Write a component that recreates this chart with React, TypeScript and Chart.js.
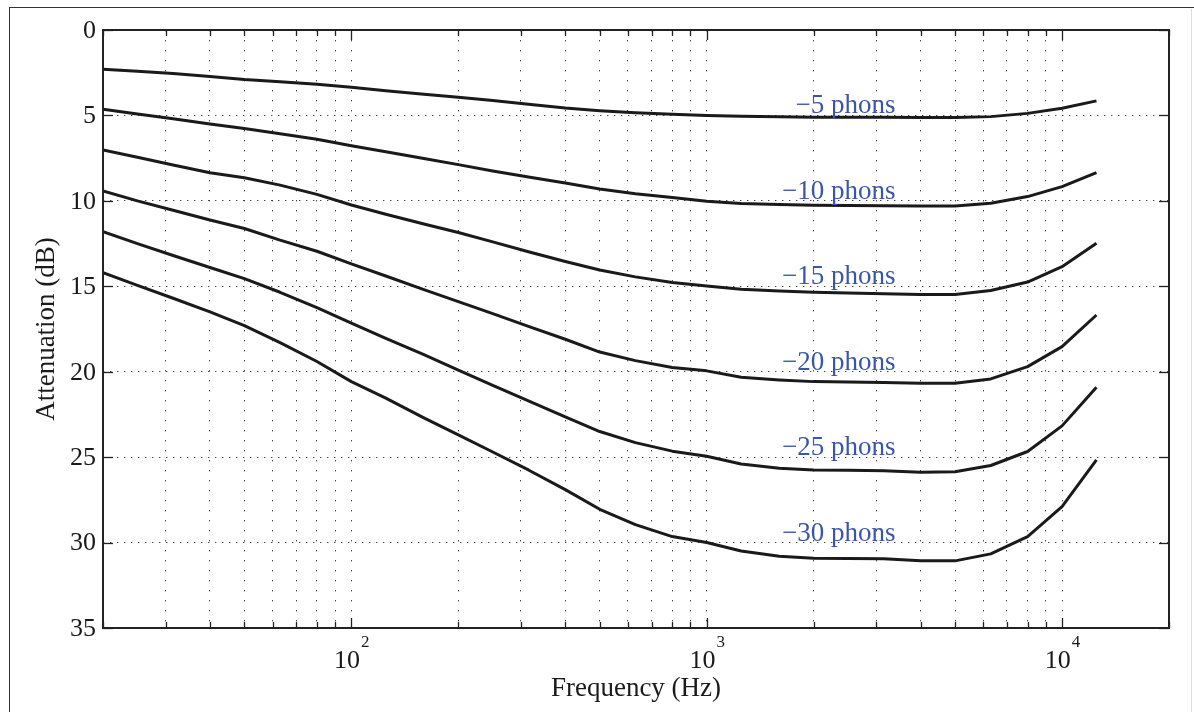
import React, { useEffect, useRef } from "react";
import { Chart, registerables } from "chart.js";

Chart.register(...registerables);

// Third-octave centre frequencies (Hz)
const FREQS = [20, 25, 31.5, 40, 50, 63, 80, 100, 125, 160, 200, 250, 315, 400, 500, 630, 800, 1000, 1250, 1600, 2000, 2500, 3150, 4000, 5000, 6300, 8000, 10000, 12500];

// Attenuation (dB) per curve
const ATT_M5 = [2.30, 2.42, 2.55, 2.72, 2.90, 3.03, 3.18, 3.35, 3.55, 3.76, 3.94, 4.13, 4.35, 4.57, 4.72, 4.84, 4.93, 5.00, 5.05, 5.08, 5.10, 5.10, 5.10, 5.12, 5.12, 5.07, 4.88, 4.58, 4.15];
const ATT_M10 = [4.64, 4.92, 5.20, 5.50, 5.77, 6.07, 6.40, 6.77, 7.12, 7.52, 7.88, 8.25, 8.60, 8.95, 9.30, 9.58, 9.80, 10.02, 10.15, 10.22, 10.25, 10.27, 10.28, 10.30, 10.30, 10.14, 9.75, 9.17, 8.35];
const ATT_M15 = [7.02, 7.45, 7.90, 8.35, 8.65, 9.08, 9.62, 10.24, 10.78, 11.35, 11.85, 12.40, 12.98, 13.55, 14.05, 14.45, 14.78, 14.98, 15.18, 15.28, 15.35, 15.40, 15.43, 15.48, 15.48, 15.25, 14.75, 13.85, 12.48];
const ATT_M20 = [9.42, 10.00, 10.55, 11.12, 11.62, 12.30, 12.95, 13.69, 14.40, 15.20, 15.90, 16.60, 17.35, 18.10, 18.85, 19.35, 19.75, 19.95, 20.32, 20.48, 20.58, 20.60, 20.63, 20.68, 20.68, 20.42, 19.70, 18.53, 16.68];
const ATT_M25 = [11.80, 12.50, 13.20, 13.90, 14.55, 15.35, 16.25, 17.16, 18.05, 19.00, 19.90, 20.80, 21.70, 22.65, 23.50, 24.15, 24.65, 24.95, 25.40, 25.65, 25.75, 25.77, 25.79, 25.88, 25.86, 25.49, 24.67, 23.17, 20.91];
const ATT_M30 = [14.20, 14.95, 15.70, 16.50, 17.30, 18.30, 19.40, 20.58, 21.55, 22.70, 23.70, 24.70, 25.75, 26.90, 28.05, 28.95, 29.65, 30.00, 30.49, 30.80, 30.92, 30.93, 30.95, 31.07, 31.07, 30.66, 29.65, 27.89, 25.16];

const SERIES = [ATT_M5, ATT_M10, ATT_M15, ATT_M20, ATT_M25, ATT_M30];
const SERIES_LABELS = ["\u22125 phons", "\u221210 phons", "\u221215 phons", "\u221220 phons", "\u221225 phons", "\u221230 phons"];
const LABEL_LEVELS = [5, 10, 15, 20, 25, 30];

const Y_TICKS = [0, 5, 10, 15, 20, 25, 30, 35];
const X_DECADES = [100, 1000, 10000];
const X_GRID = [20, 30, 40, 50, 60, 70, 80, 90, 100, 200, 300, 400, 500, 600, 700, 800, 900, 1000, 2000, 3000, 4000, 5000, 6000, 7000, 8000, 9000, 10000, 20000];

const SERIF = '"Liberation Serif", "Times New Roman", serif';
const LABEL_FREQ = 3400;

const decor = {
  id: "decor",
  afterDraw(chart: any) {
    const { ctx, chartArea: a, scales } = chart;
    const x = scales.x;
    const y = scales.y;
    ctx.save();
    const line = (x1: number, y1: number, x2: number, y2: number) => {
      ctx.beginPath();
      ctx.moveTo(x1, y1);
      ctx.lineTo(x2, y2);
      ctx.stroke();
    };
    // inward tick marks
    ctx.strokeStyle = "#222";
    ctx.lineWidth = 1.3;
    for (const v of X_GRID) {
      const px = Math.round(x.getPixelForValue(v)) + 0.5;
      const L = X_DECADES.includes(v) ? 10 : 6;
      line(px, a.top, px, a.top + L);
      line(px, a.bottom, px, a.bottom - L);
    }
    for (const v of Y_TICKS) {
      const py = Math.round(y.getPixelForValue(v)) + 0.5;
      line(a.left, py, a.left + 10, py);
      line(a.right, py, a.right - 10, py);
    }
    // frame
    ctx.lineWidth = 2;
    ctx.strokeStyle = "#222";
    ctx.strokeRect(a.left, a.top, a.right - a.left, a.bottom - a.top);

    // y tick labels
    ctx.fillStyle = "#1a1a1a";
    ctx.font = `26px ${SERIF}`;
    ctx.textAlign = "right";
    ctx.textBaseline = "middle";
    for (const v of Y_TICKS) {
      ctx.fillText(String(v), a.left - 7, y.getPixelForValue(v) + 1);
    }

    // x tick labels 10^n
    ctx.textBaseline = "alphabetic";
    ctx.textAlign = "left";
    for (const d of X_DECADES) {
      const px = x.getPixelForValue(d);
      const exp = String(Math.round(Math.log10(d)));
      ctx.font = `26px ${SERIF}`;
      const w1 = ctx.measureText("10").width;
      ctx.font = `17px ${SERIF}`;
      const w2 = ctx.measureText(exp).width;
      const start = px - (w1 + w2) / 2;
      ctx.font = `26px ${SERIF}`;
      ctx.fillText("10", start, a.bottom + 40);
      ctx.font = `17px ${SERIF}`;
      ctx.fillText(exp, start + w1 + 1, a.bottom + 19);
    }

    // axis titles
    ctx.font = `27px ${SERIF}`;
    ctx.textAlign = "center";
    ctx.fillText("Frequency (Hz)", (a.left + a.right) / 2, a.bottom + 68);
    ctx.save();
    ctx.translate(54, (a.top + a.bottom) / 2);
    ctx.rotate(-Math.PI / 2);
    ctx.fillText("Attenuation (dB)", 0, 0);
    ctx.restore();

    // curve labels
    ctx.fillStyle = "#3a56a8";
    ctx.font = `27px ${SERIF}`;
    ctx.textAlign = "right";
    const lx = x.getPixelForValue(LABEL_FREQ);
    SERIES_LABELS.forEach((t, i) => {
      ctx.fillText(t, lx, y.getPixelForValue(LABEL_LEVELS[i]) - 2);
    });
    ctx.restore();
  },
};

export default function App() {
  const ref = useRef<HTMLCanvasElement | null>(null);
  useEffect(() => {
    if (!ref.current) return;
    const chart = new Chart(ref.current, {
      type: "line",
      data: {
        datasets: SERIES.map((s, i) => ({
          label: SERIES_LABELS[i],
          data: FREQS.map((f, j) => ({ x: f, y: s[j] })),
          borderColor: "#1a1a1a",
          borderWidth: 3,
          pointRadius: 0,
          tension: 0,
          fill: false,
          borderJoinStyle: "round" as const,
        })),
      },
      plugins: [decor],
      options: {
        animation: false,
        responsive: false,
        maintainAspectRatio: false,
        devicePixelRatio: 1,
        layout: { padding: { left: 0, top: 30, right: 25, bottom: 0 } },
        plugins: { legend: { display: false }, tooltip: { enabled: false }, title: { display: false } },
        scales: {
          x: {
            type: "logarithmic",
            min: 20,
            max: 20000,
            afterBuildTicks: (s: any) => {
              s.ticks = X_GRID.map((v) => ({ value: v }));
            },
            afterFit: (s: any) => {
              s.height = 84;
            },
            ticks: { display: false },
            border: { display: false, dash: [1.4, 8.6] },
            grid: { color: "#444", lineWidth: 1, drawTicks: false },
          },
          y: {
            type: "linear",
            reverse: true,
            min: 0,
            max: 35,
            afterBuildTicks: (s: any) => {
              s.ticks = Y_TICKS.map((v) => ({ value: v }));
            },
            afterFit: (s: any) => {
              s.width = 103;
            },
            ticks: { display: false },
            border: { display: false, dash: [1.4, 5.6] },
            grid: { color: "#444", lineWidth: 1, drawTicks: false },
          },
        },
      },
    });
    return () => chart.destroy();
  }, []);
  return (
    <div style={{ position: "fixed", left: 0, top: 0, width: 1194, height: 712, background: "#fff" }}>
      <div style={{ position: "absolute", left: 9, top: 7, right: 0, bottom: 0, borderTop: "1.5px solid #333", borderLeft: "1.5px solid #333" }} />
      <div style={{ position: "absolute", left: 1191, top: 9, width: 1, bottom: 0, background: "#ddd" }} />
      <canvas ref={ref} width={1194} height={712} style={{ position: "absolute", left: 0, top: 0, width: 1194, height: 712 }} />
    </div>
  );
}
